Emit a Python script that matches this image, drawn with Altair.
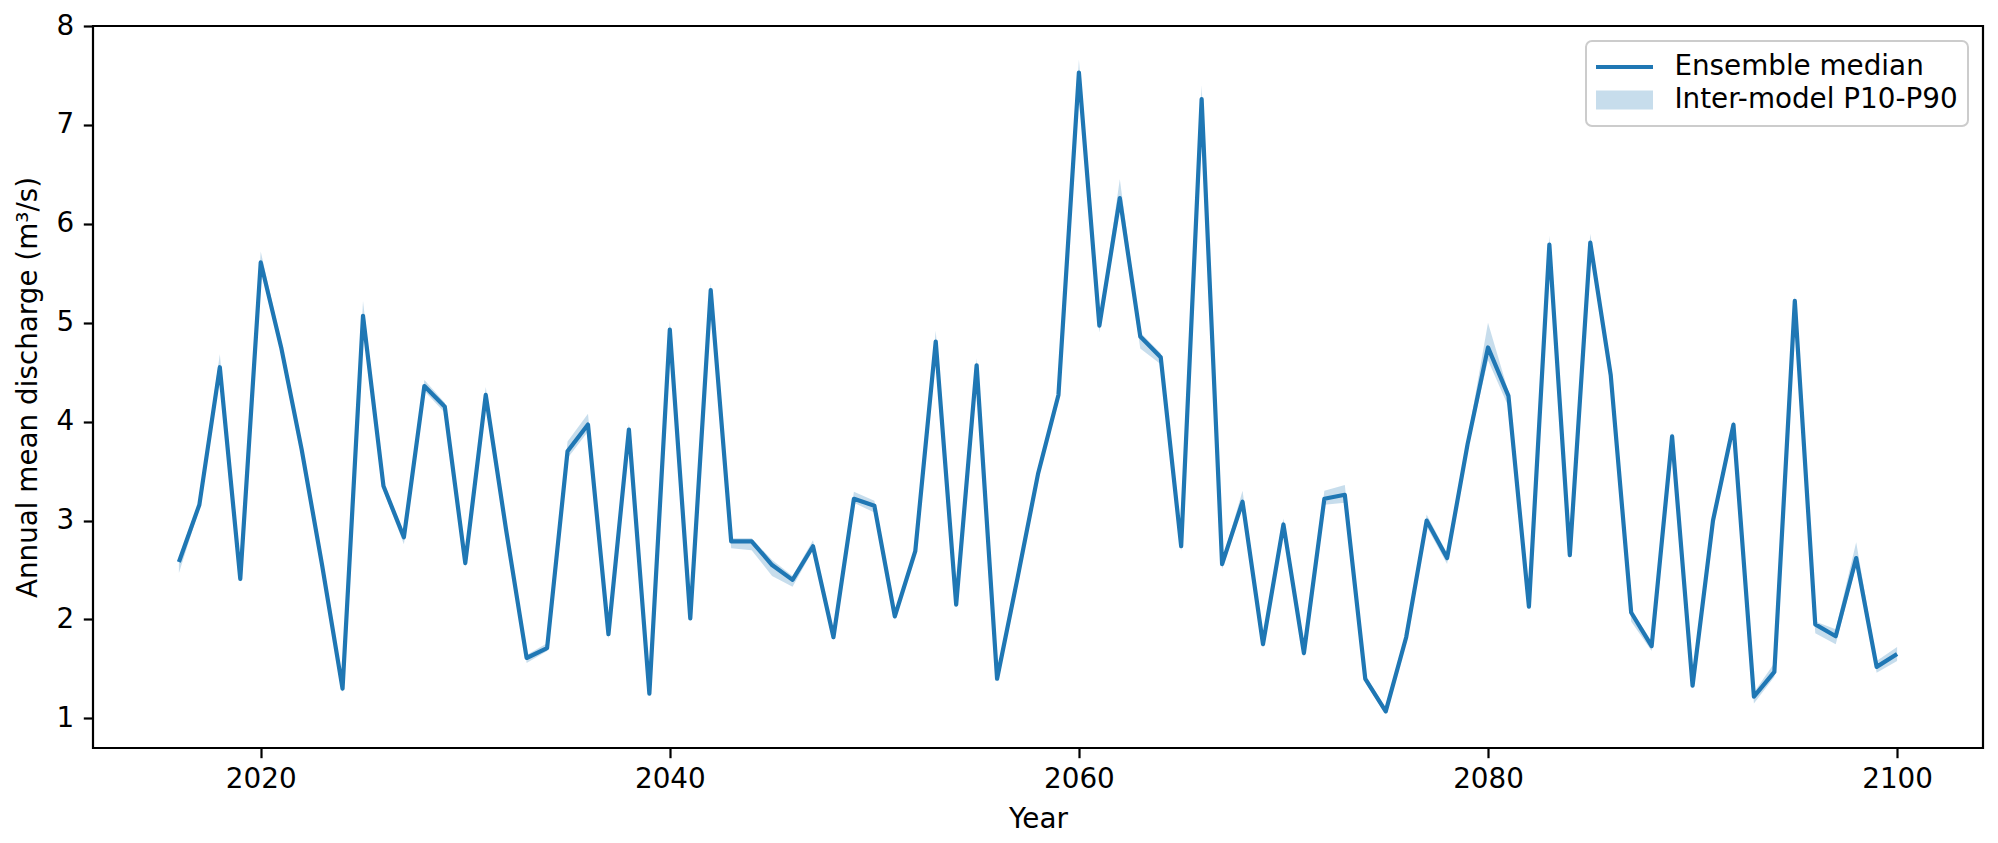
import altair as alt
import pandas as pd

years = list(range(2016, 2101))

median = [2.58, 3.16, 4.55, 2.41, 5.61, 4.75, 3.72, 2.55, 1.30, 5.07,
          3.35, 2.83, 4.36, 4.15, 2.57, 4.27, 2.90, 1.61, 1.71, 3.70,
          3.97, 1.85, 3.92, 1.25, 4.93, 2.01, 5.33, 2.79, 2.79, 2.55,
          2.40, 2.74, 1.82, 3.22, 3.15, 2.03, 2.69, 4.81, 2.15, 4.57,
          1.40, 2.42, 3.47, 4.27, 7.53, 4.97, 6.26, 4.86, 4.65, 2.74,
          7.26, 2.56, 3.19, 1.75, 2.96, 1.66, 3.22, 3.26, 1.40, 1.07,
          1.82, 3.00, 2.62, 3.77, 4.75, 4.26, 2.13, 5.79, 2.65, 5.81,
          4.47, 2.07, 1.73, 3.85, 1.33, 3.00, 3.97, 1.22, 1.47, 5.22,
          1.95, 1.83, 2.62, 1.52, 1.65]

p10 = [2.47, 3.12, 4.50, 2.37, 5.57, 4.70, 3.68, 2.51, 1.26, 5.02,
       3.30, 2.76, 4.31, 4.09, 2.53, 4.23, 2.86, 1.56, 1.68, 3.63,
       3.90, 1.80, 3.88, 1.22, 4.89, 1.98, 5.29, 2.72, 2.70, 2.44,
       2.33, 2.70, 1.79, 3.18, 3.08, 2.00, 2.66, 4.77, 2.12, 4.53,
       1.37, 2.39, 3.44, 4.24, 7.48, 4.90, 6.20, 4.74, 4.58, 2.69,
       7.20, 2.51, 3.14, 1.71, 2.92, 1.62, 3.16, 3.18, 1.36, 1.04,
       1.79, 2.94, 2.56, 3.72, 4.62, 4.15, 2.10, 5.74, 2.61, 5.76,
       4.40, 1.98, 1.68, 3.80, 1.30, 2.95, 3.92, 1.15, 1.42, 5.18,
       1.86, 1.75, 2.55, 1.46, 1.58]

p90 = [2.62, 3.20, 4.68, 2.45, 5.72, 4.80, 3.76, 2.59, 1.36, 5.22,
       3.39, 2.87, 4.42, 4.19, 2.61, 4.35, 2.93, 1.64, 1.76, 3.80,
       4.08, 1.89, 3.98, 1.28, 5.02, 2.04, 5.40, 2.82, 2.82, 2.60,
       2.44, 2.80, 1.85, 3.29, 3.20, 2.06, 2.73, 4.92, 2.19, 4.64,
       1.43, 2.45, 3.51, 4.31, 7.66, 5.02, 6.45, 4.90, 4.69, 2.78,
       7.40, 2.59, 3.30, 1.79, 3.02, 1.69, 3.30, 3.36, 1.44, 1.10,
       1.85, 3.06, 2.67, 3.82, 5.00, 4.30, 2.17, 5.88, 2.69, 5.90,
       4.52, 2.10, 1.78, 3.90, 1.37, 3.04, 4.01, 1.26, 1.56, 5.27,
       1.98, 1.90, 2.78, 1.58, 1.72]

series_names = ["Ensemble median", "Inter-model P10-P90"]
x_ticks = [2020, 2040, 2060, 2080, 2100]
y_ticks = [1, 2, 3, 4, 5, 6, 7, 8]
x_title = "Year"
y_title = "Annual mean discharge (m³/s)"

df = pd.DataFrame({
    "year": years,
    "median": median,
    "p10": p10,
    "p90": p90,
    "series": series_names[0],
})

FONT = "DejaVu Sans"
FS = 27.8
BLUE = "#1f77b4"
BAND = "#c7ddec"
W, H = 1890, 722

x_scale = alt.Scale(domain=[2011.8, 2104.2], nice=False, zero=False)
y_scale = alt.Scale(domain=[0.7, 8.0], nice=False, zero=False)

x_axis = alt.Axis(values=x_ticks, format="d", title=x_title, labelPadding=8,
                  titleX=W / 2, titleY=71, titleAlign="center", titleBaseline="middle")
y_axis = alt.Axis(values=y_ticks, format="d", title=y_title, labelPadding=9.7,
                  titleAngle=270, titleX=-65, titleY=H / 2, titleAlign="center",
                  titleBaseline="middle")

# legend symbol: a horizontal segment 57px long; its thickness comes from the strokeWidth scale
legend = alt.Legend(title=None, orient="top-right", offset=15,
                    symbolType="M-14.25,0H14.25", symbolSize=16, symbolOffset=14.6,
                    labelFont=FONT, labelFontSize=FS, labelColor="black",
                    labelOffset=36, labelLimit=600, padding=10, rowPadding=1,
                    clipHeight=32,
                    fillColor="rgba(255,255,255,0.8)", strokeColor="#cccccc",
                    cornerRadius=6)

band = alt.Chart(df).mark_area(color=BLUE, opacity=0.25).encode(
    x=alt.X("year:Q", scale=x_scale, axis=x_axis),
    y=alt.Y("p10:Q", scale=y_scale, axis=y_axis),
    y2="p90:Q",
)

line = alt.Chart(df).mark_line(strokeJoin="round").encode(
    x=alt.X("year:Q", scale=x_scale, axis=x_axis),
    y=alt.Y("median:Q", scale=y_scale, axis=y_axis),
    stroke=alt.Stroke("series:N", scale=alt.Scale(domain=series_names, range=[BLUE, BAND]),
                      legend=legend),
    strokeWidth=alt.StrokeWidth("series:N", scale=alt.Scale(domain=series_names, range=[4.2, 19]),
                                legend=legend),
)

base = alt.layer(band, line).properties(
    width=W, height=H,
    padding={"left": 85, "top": 18, "right": 7, "bottom": 87},
    autosize=alt.AutoSizeParams(type="none"),
    background="white",
).configure_view(
    stroke="black", strokeWidth=2.2
).configure_axis(
    domain=False, grid=False, ticks=True, tickColor="black", tickWidth=2.2, tickSize=9.7,
    labelFont=FONT, labelFontSize=FS, labelColor="black",
    titleFont=FONT, titleFontSize=FS, titleFontWeight="normal", titleColor="black",
)

try:
    chart = base.configure_legend(strokeWidth=2)
    chart.to_dict()
except Exception:
    chart = base

chart.save("out.html", embed_options={"renderer": "svg", "actions": False})
